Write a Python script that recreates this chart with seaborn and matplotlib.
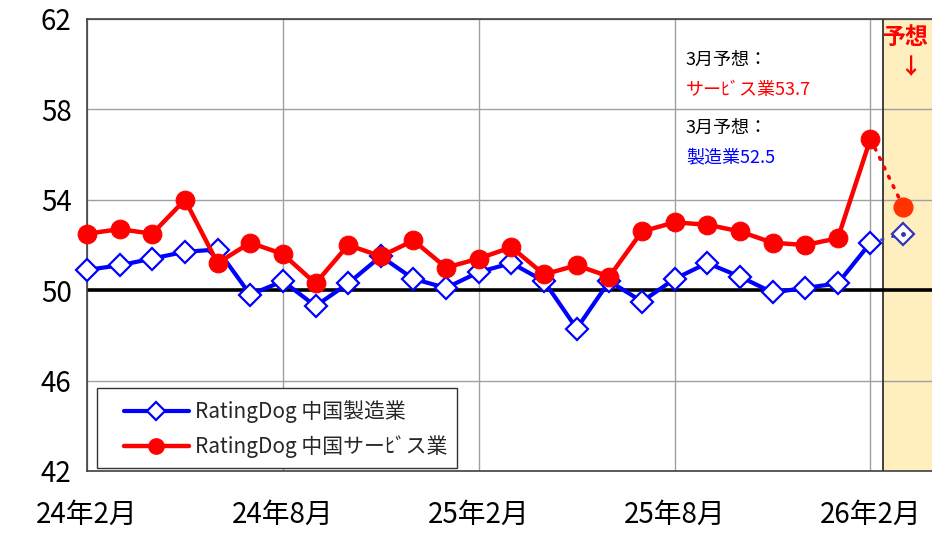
import matplotlib
matplotlib.use("Agg")
import matplotlib.pyplot as plt
from matplotlib.lines import Line2D
from matplotlib.patches import Rectangle
import seaborn as sns
import pandas as pd
import numpy as np

sns.set_theme(style="white")
plt.rcParams['font.family'] = ['Noto Sans CJK JP', 'DejaVu Sans']

# ---- data ----
months = ["24年2月", "24年3月", "24年4月", "24年5月", "24年6月", "24年7月", "24年8月",
          "24年9月", "24年10月", "24年11月", "24年12月", "25年1月", "25年2月", "25年3月",
          "25年4月", "25年5月", "25年6月", "25年7月", "25年8月", "25年9月", "25年10月",
          "25年11月", "25年12月", "26年1月", "26年2月"]
manufacturing = [50.9, 51.1, 51.4, 51.7, 51.8, 49.8, 50.4, 49.3, 50.3, 51.5, 50.5, 50.1,
                 50.8, 51.2, 50.4, 48.3, 50.4, 49.5, 50.5, 51.2, 50.6, 49.9, 50.1, 50.3, 52.1]
services = [52.5, 52.7, 52.5, 54.0, 51.2, 52.1, 51.6, 50.3, 52.0, 51.5, 52.2, 51.0,
            51.4, 51.9, 50.7, 51.1, 50.6, 52.6, 53.0, 52.9, 52.6, 52.1, 52.0, 52.3, 56.7]
forecast_month = "26年3月"
forecast_mfg = 52.5
forecast_svc = 53.7
tick_labels = ["24年2月", "24年8月", "25年2月", "25年8月", "26年2月"]
label_mfg = "RatingDog 中国製造業"
label_svc = "RatingDog 中国サーﾋﾞス業"

all_months = months + [forecast_month]
pos = {m: i for i, m in enumerate(all_months)}
df = pd.DataFrame({"x": [pos[m] for m in months], "mfg": manufacturing, "svc": services})
df_fc_m = pd.DataFrame({"x": [pos[months[-1]], pos[forecast_month]], "y": [manufacturing[-1], forecast_mfg]})
df_fc_s = pd.DataFrame({"x": [pos[months[-1]], pos[forecast_month]], "y": [services[-1], forecast_svc]})

W, H = 932, 533
fig = plt.figure(figsize=(W / 100, H / 100), dpi=100)
ax = fig.add_axes([87 / W, (H - 471) / H, (932 - 87) / W + 0.01, (471 - 19) / H])

blue = "#0000FF"
red = "#FF0000"

# forecast shading
ax.axvspan(24.37, 27, color="#FFEEBE", zorder=0.1, lw=0)
ax.axvline(24.37, color="#333333", lw=1.3, zorder=0.6)

# grid
ax.set_axisbelow(True)
ax.grid(True, color="#A0A0A0", lw=1.0)

# 50 line
ax.axhline(50, color="black", lw=2.6, zorder=1.5)

# forecast dotted segments
sns.lineplot(data=df_fc_s, x="x", y="y", ax=ax, color=red, lw=2.5, ls=(0, (0.6, 2.4)),
             dash_capstyle="round", zorder=2, legend=False)
sns.lineplot(data=df_fc_m, x="x", y="y", ax=ax, color="#4040C8", lw=2.0, ls=(0, (0.6, 3.5)),
             dash_capstyle="round", zorder=2, legend=False)

# main series
sns.lineplot(data=df, x="x", y="mfg", ax=ax, color=blue, lw=3.0, marker="D", markersize=11.5,
             markerfacecolor="white", markeredgecolor=blue, markeredgewidth=1.6,
             zorder=3, clip_on=False, legend=False)
sns.lineplot(data=df, x="x", y="svc", ax=ax, color=red, lw=3.2, marker="o", markersize=13.5,
             markerfacecolor=red, markeredgecolor=red, zorder=4, clip_on=False, legend=False)

# forecast markers
ax.plot([pos[forecast_month]], [forecast_mfg], marker="D", markersize=11.5, mfc="white",
        mec="#3333BB", mew=1.6, ls="none", zorder=3, clip_on=False)
ax.plot([pos[forecast_month]], [forecast_mfg], marker="o", markersize=2.5, color="#3333BB",
        ls="none", zorder=3.1)
ax.plot([pos[forecast_month]], [forecast_svc], marker="o", markersize=13.5, color="#FF3300",
        ls="none", zorder=4)

# axes
ax.set_xlim(0, 25.84 + 0.33)
ax.set_ylim(42, 62)
ax.set_yticks([42, 46, 50, 54, 58, 62])
ax.set_xticks([pos[m] for m in tick_labels])
ax.set_xticklabels(tick_labels)
ax.set_xlabel("")
ax.set_ylabel("")
ax.tick_params(axis="x", labelsize=20, length=7, width=1, color="#333333",
               direction="inout", pad=17)
ax.tick_params(axis="y", labelsize=20, length=8, width=1, color="#333333",
               direction="inout", pad=7)
for lab in ax.get_xticklabels() + ax.get_yticklabels():
    lab.set_color("black")
for s in ["left", "bottom", "top"]:
    ax.spines[s].set_visible(True)
    ax.spines[s].set_color("#404040")
    ax.spines[s].set_linewidth(1.2)
ax.spines["right"].set_visible(False)

# legend: frame drawn as a figure rectangle, entries placed inside it
fig.patches.append(Rectangle((97 / W, (H - 468) / H), 360 / W, 80 / H,
                             transform=fig.transFigure, facecolor="white",
                             edgecolor="#333333", lw=1.0, zorder=5))
handles = [
    Line2D([], [], color=blue, lw=3.0, marker="D", markersize=9, mfc="white", mec=blue, mew=1.6),
    Line2D([], [], color=red, lw=3.2, marker="o", markersize=11, mfc=red, mec=red),
]
leg = fig.legend(handles, [label_mfg, label_svc], loc="center left",
                 bbox_to_anchor=(124 / W, 1 - 429 / H), fontsize=15, frameon=False,
                 handlelength=3.1, labelspacing=0.6, borderpad=0, handletextpad=0.3,
                 borderaxespad=0)
leg.set_zorder(6)

# annotations
fig.text(686 / W, 1 - 60 / H, "3月予想：", fontsize=13, color="black", va="center", ha="left")
fig.text(686 / W, 1 - 90 / H, "サーﾋﾞス業53.7", fontsize=13, color=red, va="center", ha="left")
fig.text(686 / W, 1 - 128 / H, "3月予想：", fontsize=13, color="black", va="center", ha="left")
fig.text(686 / W, 1 - 157 / H, "製造業52.5", fontsize=13, color=blue, va="center", ha="left")
fig.text(929 / W, 1 - 38 / H, "予想", fontsize=16.5, color=red, fontweight="bold",
         va="center", ha="right")
fig.text(910 / W, 1 - 68 / H, "↓", fontsize=16, color=red, fontweight="bold",
         va="center", ha="center")

fig.savefig("out.png", dpi=100)
